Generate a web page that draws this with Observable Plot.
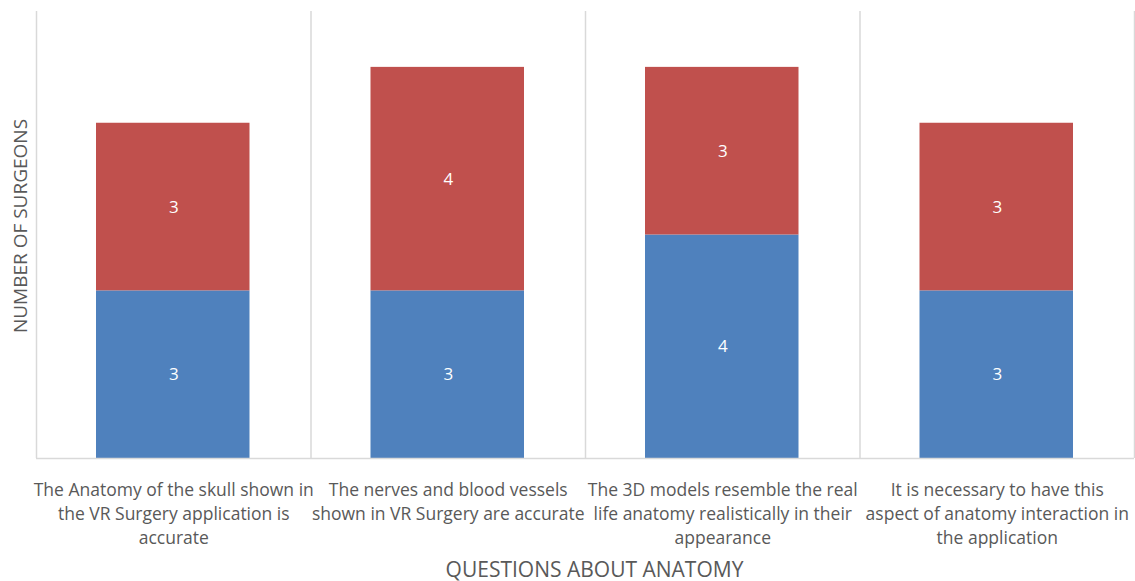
<!DOCTYPE html>
<html>
<head>
<meta charset="utf-8">
<script src="https://cdn.jsdelivr.net/npm/d3@7"></script>
<script src="https://cdn.jsdelivr.net/npm/@observablehq/plot@0.6"></script>
<style>
  html, body { margin: 0; padding: 0; background: #fff; }
  #chart svg { display: block; }
</style>
</head>
<body>
<div id="chart"></div>
<script>
const categories = [
  "The Anatomy of the skull shown in\nthe VR Surgery application is\naccurate",
  "The nerves and blood vessels\nshown in VR Surgery are accurate",
  "The 3D models resemble the real\nlife anatomy realistically in their\nappearance",
  "It is necessary to have this\naspect of anatomy interaction in\nthe application"
];
const seriesNames = ["Series 1", "Series 2"];
const seriesColors = ["#4F81BD", "#C0504D"];
const series1Values = [3, 3, 4, 3];
const series2Values = [3, 4, 3, 3];
const yTitle = "NUMBER OF SURGEONS";
const xTitle = "QUESTIONS ABOUT ANATOMY";

const data = categories.flatMap((c, i) => [
  {i, series: seriesNames[0], value: series1Values[i]},
  {i, series: seriesNames[1], value: series2Values[i]}
]);

const chart = Plot.plot({
  width: 1135,
  height: 581,
  marginLeft: 36,
  marginRight: 1,
  marginTop: 11,
  marginBottom: 123,
  style: {fontFamily: "'Open Sans', sans-serif", background: "#fff"},
  x: {domain: [0, categories.length]},
  y: {domain: [0, 8], axis: null},
  color: {domain: seriesNames, range: seriesColors},
  marks: [
    Plot.ruleX(d3.range(0, categories.length + 1), {stroke: "#d9d9d9", strokeWidth: 1.5}),
    Plot.rectY(data, {x: "i", interval: 1, y: "value", fill: "series", insetLeft: 60, insetRight: 61}),
    Plot.text(data, Plot.stackY({x: d => d.i + 0.5, y: "value", text: "value", fill: "white", fontSize: 17})),
    Plot.ruleY([0], {stroke: "#d9d9d9", strokeWidth: 1.5}),
    Plot.axisX(d3.range(categories.length).map(i => i + 0.5), {
      tickSize: 0,
      tickPadding: 20,
      tickFormat: d => categories[Math.floor(d)],
      lineHeight: 1.38,
      fontSize: 17.5,
      fill: "#595959",
      label: null
    }),
    Plot.text([xTitle], {frameAnchor: "bottom", dx: 9, dy: 118, fontSize: 21, fill: "#595959"}),
    Plot.text([yTitle], {frameAnchor: "left", dx: -16, dy: -9, rotate: -90, textAnchor: "middle", fontSize: 19, fill: "#595959"})
  ]
});
document.getElementById("chart").append(chart);
</script>
</body>
</html>
